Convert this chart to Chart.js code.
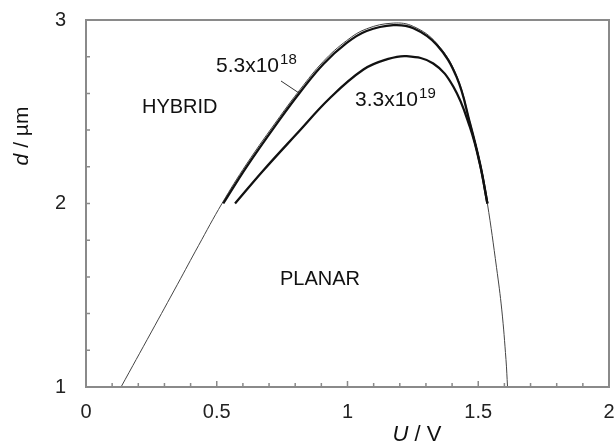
<!DOCTYPE html>
<html>
<head>
<meta charset="utf-8">
<script src="https://cdn.jsdelivr.net/npm/chart.js@4.4.1/dist/chart.umd.min.js"></script>
<style>
body { margin: 0; background: #fff; }
#wrap { width: 615px; height: 443px; }
</style>
</head>
<body>
<div id="wrap"><canvas id="dchart" width="615" height="443"></canvas></div>
<script>
// boundary curve between HYBRID and PLANAR (thin line)
var planarU = [0.134, 0.25, 0.35, 0.43, 0.52, 0.614, 0.742, 0.818, 0.908, 0.997, 1.073, 1.175, 1.252, 1.341, 1.417, 1.468, 1.507, 1.535, 1.57, 1.59, 1.606, 1.612];
var planarD = [1.0, 1.3, 1.56, 1.77, 2.0, 2.215, 2.475, 2.62, 2.775, 2.888, 2.952, 2.983, 2.965, 2.873, 2.697, 2.445, 2.22, 2.0, 1.65, 1.42, 1.15, 1.0];

// 5.3x10^18 curve
var upperU = [0.525, 0.614, 0.742, 0.818, 0.908, 0.997, 1.073, 1.175, 1.252, 1.341, 1.417, 1.468, 1.507, 1.535];
var upperD = [2.0, 2.2, 2.46, 2.605, 2.76, 2.875, 2.94, 2.972, 2.955, 2.865, 2.69, 2.44, 2.215, 2.0];

// 3.3x10^19 curve
var lowerU = [0.570, 0.678, 0.806, 0.933, 1.061, 1.15, 1.226, 1.328, 1.405, 1.468, 1.507, 1.535];
var lowerD = [2.0, 2.18, 2.38, 2.575, 2.73, 2.785, 2.803, 2.763, 2.636, 2.417, 2.21, 2.0];

var xTickLabels = ["0", "0.5", "1", "1.5", "2"];
var yTickLabels = ["1", "2", "3"];

function pts(xs, ys) {
    var out = [];
    for (var i = 0; i < xs.length; i++) out.push({ x: xs[i], y: ys[i] });
    return out;
}

function isMajor(v, step) {
    return Math.abs(v / step - Math.round(v / step)) < 1e-6;
}

var font = "'Liberation Sans', Arial, sans-serif";

var framePlugin = {
    id: "frame",
    afterDraw: function(chart) {
        var ctx = chart.ctx;
        var a = chart.chartArea;
        var xs = chart.scales.x, ys = chart.scales.y;
        ctx.save();

        // box
        ctx.strokeStyle = "#8a8a8a";
        ctx.lineWidth = 2;
        ctx.strokeRect(a.left, a.top, a.right - a.left, a.bottom - a.top);

        // inside ticks
        ctx.lineWidth = 1.5;
        ctx.beginPath();
        xs.ticks.forEach(function(t) {
            if (t.value <= 0 || t.value >= 2) return;
            var px = xs.getPixelForValue(t.value);
            var len = isMajor(t.value, 0.5) ? 6 : 4;
            ctx.moveTo(px, a.bottom);
            ctx.lineTo(px, a.bottom - len);
        });
        ys.ticks.forEach(function(t) {
            if (t.value <= 1 || t.value >= 3) return;
            var py = ys.getPixelForValue(t.value);
            ctx.moveTo(a.left, py);
            ctx.lineTo(a.left + 4, py);
        });
        ctx.stroke();

        // region and curve labels
        ctx.fillStyle = "#111";
        ctx.textBaseline = "alphabetic";
        ctx.textAlign = "left";
        ctx.font = "20px " + font;
        ctx.fillText("HYBRID", 142, 113);
        ctx.fillText("PLANAR", 280, 285);

        ctx.font = "21px " + font;
        ctx.fillText("5.3x10", 216, 72);
        var w1 = ctx.measureText("5.3x10").width;
        ctx.fillText("3.3x10", 355, 106);
        var w2 = ctx.measureText("3.3x10").width;
        ctx.font = "15px " + font;
        ctx.fillText("18", 216 + w1 + 1, 64);
        ctx.fillText("19", 355 + w2 + 1, 98);

        // leader line for 5.3x10^18
        ctx.strokeStyle = "#333";
        ctx.lineWidth = 1;
        ctx.beginPath();
        ctx.moveTo(281, 81);
        ctx.lineTo(299, 93);
        ctx.stroke();

        // axis titles
        ctx.fillStyle = "#111";
        var it = "italic 22px " + font, nt = "22px " + font;
        ctx.font = it;
        var uw = ctx.measureText("U").width;
        ctx.font = nt;
        var vw = ctx.measureText(" / V").width;
        var x0 = 417 - (uw + vw) / 2;
        ctx.font = it;
        ctx.fillText("U", x0, 441);
        ctx.font = nt;
        ctx.fillText(" / V", x0 + uw, 441);

        ctx.translate(28, 136);
        ctx.rotate(-Math.PI / 2);
        ctx.font = "italic 21px " + font;
        var dw = ctx.measureText("d").width;
        ctx.font = "21px " + font;
        var mw = ctx.measureText(" / \u00b5m").width;
        var y0 = -(dw + mw) / 2;
        ctx.font = "italic 21px " + font;
        ctx.fillText("d", y0, 0);
        ctx.font = "21px " + font;
        ctx.fillText(" / \u00b5m", y0 + dw, 0);

        ctx.restore();
    }
};

var data = {
    datasets: [
        {
            label: "5.3x10^18",
            data: pts(upperU, upperD),
            borderColor: "#111",
            borderWidth: 2.3,
            pointRadius: 0,
            tension: 0.4,
            fill: false
        },
        {
            label: "3.3x10^19",
            data: pts(lowerU, lowerD),
            borderColor: "#111",
            borderWidth: 2.3,
            pointRadius: 0,
            tension: 0.4,
            fill: false
        },
        {
            label: "boundary",
            data: pts(planarU, planarD),
            borderColor: "#444",
            borderWidth: 1,
            pointRadius: 0,
            tension: 0.4,
            fill: false
        }
    ]
};

var options = {
    responsive: false,
    animation: false,
    layout: { padding: { top: 20, right: 6, left: 0, bottom: 0 } },
    plugins: {
        legend: { display: false },
        tooltip: { enabled: false }
    },
    scales: {
        x: {
            type: "linear",
            min: 0,
            max: 2,
            afterFit: function(s) {
                s.height = 56;
                s.paddingLeft = 0;
                s.paddingRight = 0;
            },
            grid: { display: true, drawOnChartArea: false, drawTicks: false },
            border: { display: false },
            ticks: {
                stepSize: 0.1,
                autoSkip: false,
                maxRotation: 0,
                padding: 13,
                color: "#222",
                font: { family: font, size: 20 },
                callback: function(v) {
                    if (!isMajor(v, 0.5)) return "";
                    return xTickLabels[Math.round(v / 0.5)];
                }
            }
        },
        y: {
            type: "linear",
            min: 1,
            max: 3,
            afterFit: function(s) {
                s.width = 86;
                s.paddingTop = 0;
                s.paddingBottom = 0;
            },
            grid: { display: true, drawOnChartArea: false, drawTicks: false },
            border: { display: false },
            ticks: {
                stepSize: 0.2,
                autoSkip: false,
                padding: 20,
                color: "#222",
                font: { family: font, size: 20 },
                callback: function(v) {
                    if (!isMajor(v, 1)) return "";
                    return yTickLabels[Math.round(v) - 1];
                }
            }
        }
    }
};

var chart = new Chart(document.getElementById("dchart"), {
    type: "line",
    data: data,
    options: options,
    plugins: [framePlugin]
});
</script>
</body>
</html>
